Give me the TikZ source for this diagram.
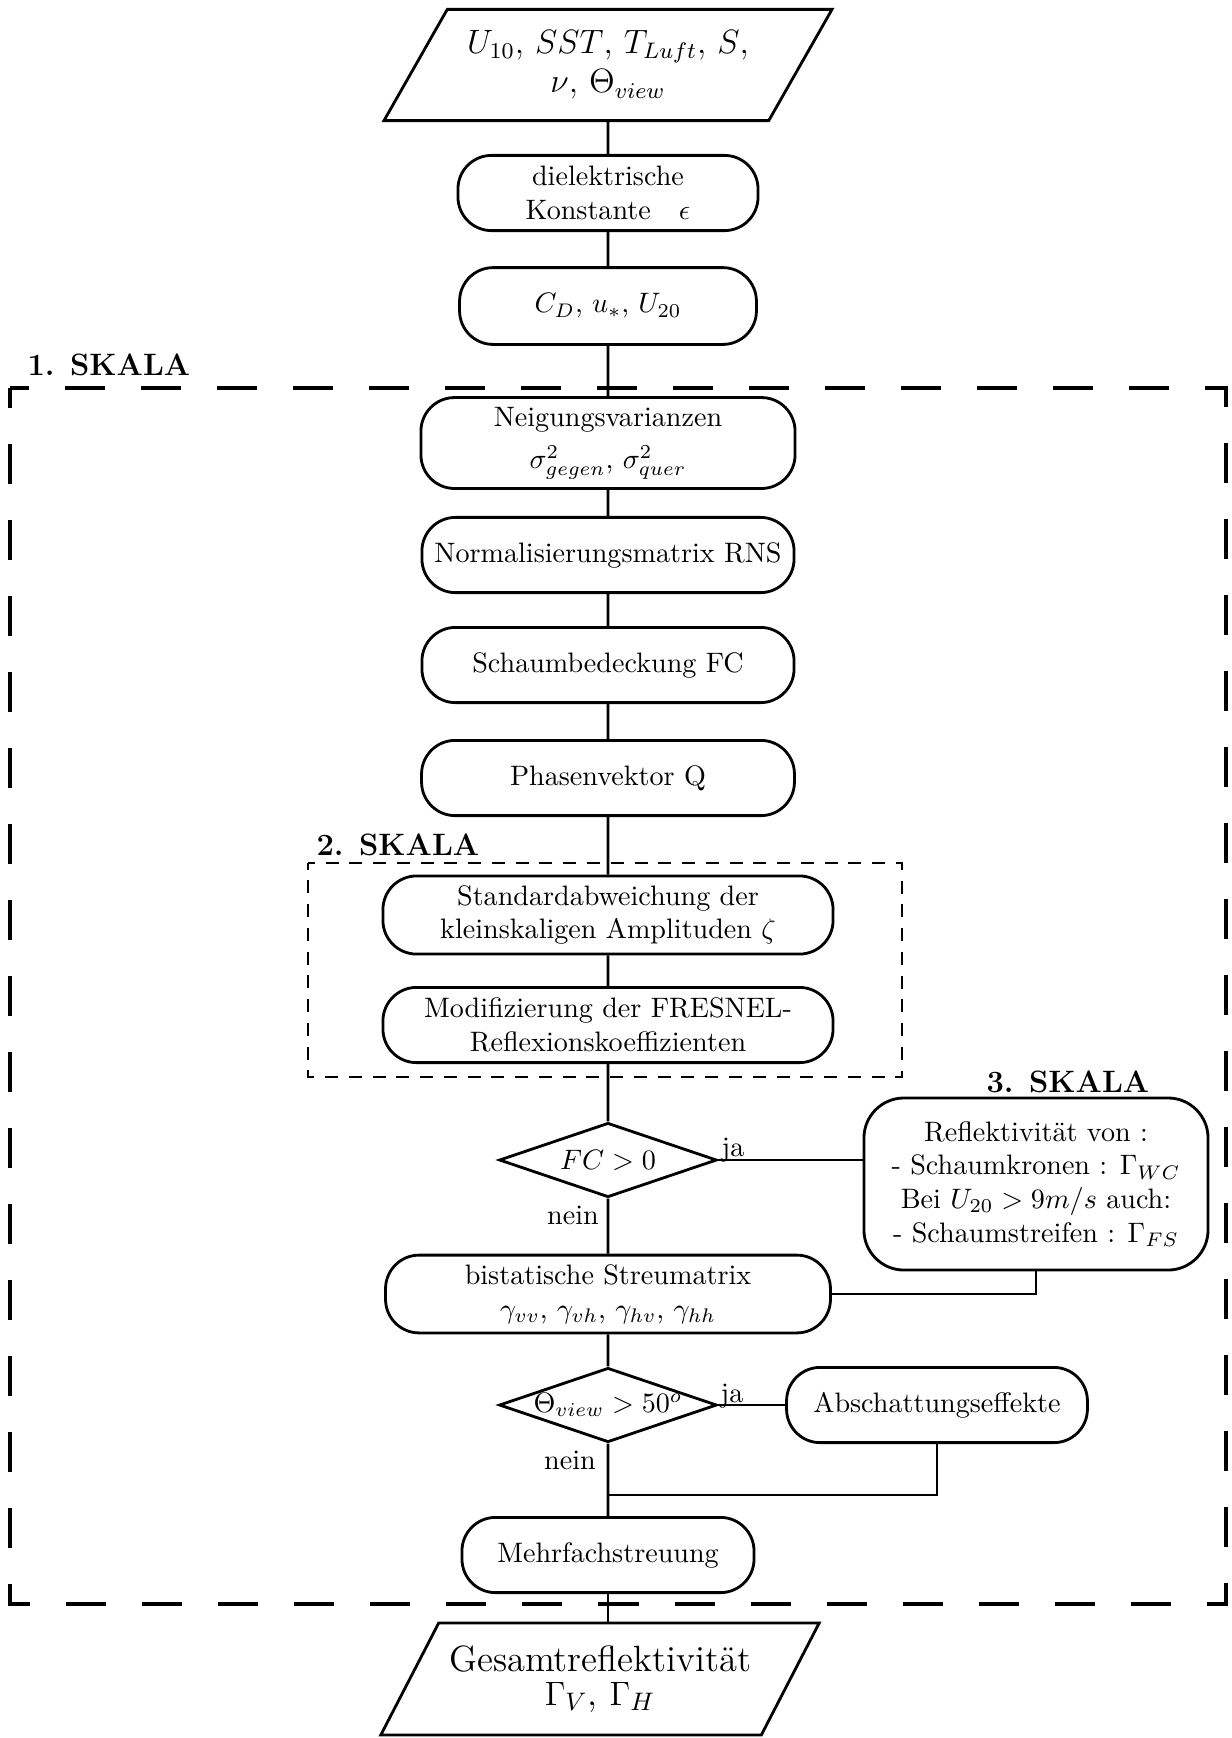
\documentclass[tikz,border=0pt]{standalone}
\usepackage{amsmath,amssymb}
\usepackage{tikz}
\usetikzlibrary{shapes.geometric,calc,positioning}
\tikzset{
  kasten/.style={draw,rounded corners=0.42cm,line width=1pt,align=center,minimum height=0.94cm},
  raute/.style={draw,diamond,aspect=2.9,inner sep=0pt,line width=1pt,minimum width=2.72cm,minimum height=0.93cm},
  ea/.style={draw,trapezium,trapezium left angle=56,trapezium right angle=124,trapezium stretches=true,line width=1pt,align=center},
  linie/.style={line width=1pt},
  skala/.style={inner sep=0pt,font=\fontsize{11pt}{13pt}\selectfont\bfseries},
  grenzeA/.style={line width=1.4pt,dash pattern=on 0.5cm off 0.45cm,dash phase=0.25cm},
  grenzeB/.style={line width=1pt,dash pattern=on 0.1625cm off 0.1344cm,dash phase=0.08125cm}
}

\begin{document}
\begin{tikzpicture}[x=0.0125cm,y=-0.0125cm]
\useasboundingbox (0,0) rectangle (1232,1738);
% rahmen der skalen
\draw[grenzeA] (10,388) rectangle (1226,1604);
\draw[grenzeB] (308,863) rectangle (902,1077);
\node[skala,anchor=base west] (s1) at (27,375) {1. SKALA};
\node[skala,anchor=base west] (s2) at (316,855) {2. SKALA};
\node[skala,anchor=base west] (s3) at (986,1092) {3. SKALA};
% eingabe
\node[ea,minimum width=5.6cm,minimum height=1.39cm,font=\large] (ein) at (608,65)
  {$U_{10}$, $SST$, $T_{Luft}$, $S$,\\ $\nu$, $\Theta_{view}$};
\node[kasten,minimum width=3.75cm] (diel) at (608,193) {dielektrische\\ Konstante\quad $\epsilon$};
\node[kasten,minimum width=3.71cm,minimum height=0.96cm] (cd) at (608,306) {$C_D$, $u_*$, $U_{20}$};
% 1. skala
\node[kasten,minimum width=4.675cm] (neig) at (608,443) {Neigungsvarianzen\\[3pt] $\sigma^2_{gegen}$, $\sigma^2_{quer}$};
\node[kasten,minimum width=4.65cm] (rns) at (608,555) {Normalisierungsmatrix RNS};
\node[kasten,minimum width=4.65cm] (fc) at (608,665) {Schaumbedeckung FC};
\node[kasten,minimum width=4.66cm] (phq) at (608,778) {Phasenvektor Q};
% 2. skala
\node[kasten,minimum width=5.625cm] (std) at (608,915) {Standardabweichung der\\ kleinskaligen Amplituden $\zeta$};
\node[kasten,minimum width=5.625cm] (mod) at (608,1025) {Modifizierung der FRESNEL-\\ Reflexionskoeffizienten};
% 3. skala
\node[raute] (fcq) at (608,1160) {$FC > 0$};
\node[kasten,rounded corners=0.5cm,minimum width=4.3cm,minimum height=2.15cm] (refl) at (1036,1184)
  {Reflektivität von :\\ - Schaumkronen : $\Gamma_{WC}$\\ Bei $U_{20} > 9m/s$ auch:\\ - Schaumstreifen : $\Gamma_{FS}$};
\node[kasten,minimum width=5.56cm] (bist) at (608,1294) {bistatische Streumatrix\\ $\gamma_{vv}$, $\gamma_{vh}$, $\gamma_{hv}$, $\gamma_{hh}$};
\node[raute] (thq) at (608,1405) {\makebox[0pt]{$\Theta_{view} > 50^o$}};
\node[kasten,minimum width=3.76cm] (absch) at (937,1405) {Abschattungseffekte};
\node[kasten,minimum width=3.65cm] (mehr) at (608,1555) {Mehrfachstreuung};
% ausgabe
\node[ea,minimum width=5.48cm,minimum height=1.4cm,font=\fontsize{13pt}{12pt}\selectfont] (aus) at (600,1679)
  {Gesamtreflektivität\\ $\Gamma_V$, $\Gamma_H$};
% verbindungen
\draw[linie] (ein) -- (diel) -- (cd) -- (neig) -- (rns) -- (fc) -- (phq) -- (std) -- (mod) -- (fcq) -- (bist) -- (thq) -- (mehr);
\draw[linie] (mehr.south) -- (mehr.south |- aus.north);
\draw[linie] (fcq.east) -- (fcq.east -| refl.west);
\draw[linie] (refl.south) |- (bist.east);
\draw[linie] (thq.east) -- (absch.west);
\coordinate (zus) at (608,1495);
\draw[linie] (absch.south) |- (zus);
% ja / nein
\node (ja1) at (733,1150) {ja};
\node (nein1) at (573,1215) {nein};
\node (ja2) at (732,1396) {ja};
\node (nein2) at (570,1460) {nein};
\end{tikzpicture}
\end{document}
